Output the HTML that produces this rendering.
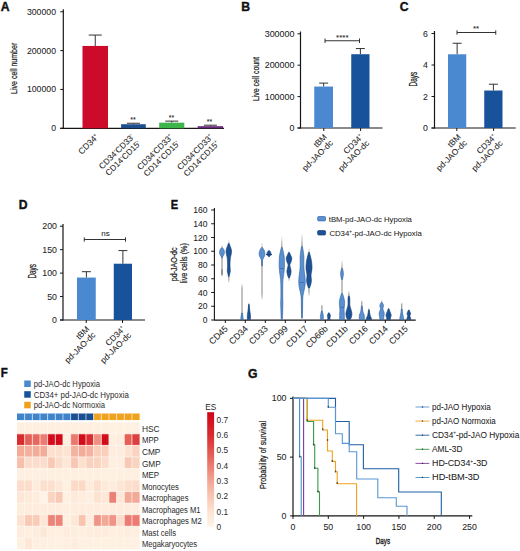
<!DOCTYPE html>
<html><head><meta charset="utf-8"><style>
html,body{margin:0;padding:0;background:#fff;}
svg{display:block;font-family:"Liberation Sans",sans-serif;}
text{stroke:#222;stroke-width:0.05px;}
</style></head><body>
<svg width="520" height="551" viewBox="0 0 520 551">
<rect width="520" height="551" fill="#fff"/>
<text x="0.7" y="10.6" font-size="12.2" font-weight="bold" style="stroke-width:0.4px;stroke:#111" fill="#111">A</text>
<line x1="63.3" y1="9.3" x2="63.3" y2="128.8" stroke="#161616" stroke-width="1.2"/>
<line x1="60.2" y1="128.3" x2="224" y2="128.3" stroke="#161616" stroke-width="1.2"/>
<line x1="60.3" y1="128.3" x2="63.3" y2="128.3" stroke="#161616" stroke-width="1"/>
<text x="56" y="131.3" font-size="8.4" text-anchor="end" textLength="4.85" lengthAdjust="spacingAndGlyphs" fill="#222">0</text>
<line x1="60.3" y1="89.45000000000002" x2="63.3" y2="89.45000000000002" stroke="#161616" stroke-width="1"/>
<text x="56" y="92.45000000000002" font-size="8.4" text-anchor="end" textLength="29.099999999999998" lengthAdjust="spacingAndGlyphs" fill="#222">100000</text>
<line x1="60.3" y1="50.60000000000001" x2="63.3" y2="50.60000000000001" stroke="#161616" stroke-width="1"/>
<text x="56" y="53.60000000000001" font-size="8.4" text-anchor="end" textLength="29.099999999999998" lengthAdjust="spacingAndGlyphs" fill="#222">200000</text>
<line x1="60.3" y1="11.75" x2="63.3" y2="11.75" stroke="#161616" stroke-width="1"/>
<text x="56" y="14.75" font-size="8.4" text-anchor="end" textLength="29.099999999999998" lengthAdjust="spacingAndGlyphs" fill="#222">300000</text>
<text transform="translate(17.4,94) rotate(-90)" font-size="9.3" textLength="51.3" lengthAdjust="spacingAndGlyphs" fill="#222" style="stroke-width:0.24px">Live cell number</text>
<line x1="95.25" y1="35.06000000000002" x2="95.25" y2="45.938" stroke="#333" stroke-width="1"/>
<line x1="88.75" y1="35.06000000000002" x2="101.75" y2="35.06000000000002" stroke="#333" stroke-width="1"/>
<rect x="82.5" y="45.938" width="25.5" height="82.36200000000001" fill="#cc0a2a"/>
<line x1="133.45" y1="123.24950000000001" x2="133.45" y2="124.22075000000001" stroke="#333" stroke-width="1"/>
<line x1="126.94999999999999" y1="123.24950000000001" x2="139.95" y2="123.24950000000001" stroke="#333" stroke-width="1"/>
<rect x="121.1" y="124.22075000000001" width="24.700000000000017" height="4.079250000000002" fill="#1d4f8f"/>
<line x1="171.75" y1="121.11275" x2="171.75" y2="122.66675000000001" stroke="#333" stroke-width="1"/>
<line x1="165.25" y1="121.11275" x2="178.25" y2="121.11275" stroke="#333" stroke-width="1"/>
<rect x="159.2" y="122.66675000000001" width="25.100000000000023" height="5.633250000000004" fill="#3db54a"/>
<line x1="210.39999999999998" y1="125.19200000000001" x2="210.39999999999998" y2="126.16325" stroke="#333" stroke-width="1"/>
<line x1="203.89999999999998" y1="125.19200000000001" x2="216.89999999999998" y2="125.19200000000001" stroke="#333" stroke-width="1"/>
<rect x="197.7" y="126.16325" width="25.400000000000006" height="2.1367500000000064" fill="#6b2c7e"/>
<text x="133" y="121.5" font-size="7" text-anchor="middle" fill="#222">**</text>
<text x="171.5" y="120" font-size="7" text-anchor="middle" fill="#222">**</text>
<text x="209.5" y="124" font-size="7" text-anchor="middle" fill="#222">**</text>
<text transform="translate(99.20,137.50) rotate(-45)" font-size="8.6" text-anchor="end" fill="#222">CD34<tspan dy="-3.6" font-size="0.55em">+</tspan><tspan dy="3.6">&#8203;</tspan></text>
<text transform="translate(134.50,137.60) rotate(-45)" font-size="8.3" text-anchor="end" fill="#222">CD34<tspan dy="-3.6" font-size="0.55em">-</tspan><tspan dy="3.6">&#8203;</tspan>CD33<tspan dy="-3.6" font-size="0.55em">-</tspan><tspan dy="3.6">&#8203;</tspan></text>
<text transform="translate(141.01,144.11) rotate(-45)" font-size="8.3" text-anchor="end" fill="#222">CD14<tspan dy="-3.6" font-size="0.55em">-</tspan><tspan dy="3.6">&#8203;</tspan>CD15<tspan dy="-3.6" font-size="0.55em">-</tspan><tspan dy="3.6">&#8203;</tspan></text>
<text transform="translate(173.50,137.60) rotate(-45)" font-size="8.3" text-anchor="end" fill="#222">CD34<tspan dy="-3.6" font-size="0.55em">-</tspan><tspan dy="3.6">&#8203;</tspan>CD33<tspan dy="-3.6" font-size="0.55em">+</tspan><tspan dy="3.6">&#8203;</tspan></text>
<text transform="translate(180.01,144.11) rotate(-45)" font-size="8.3" text-anchor="end" fill="#222">CD14<tspan dy="-3.6" font-size="0.55em">+</tspan><tspan dy="3.6">&#8203;</tspan>CD15<tspan dy="-3.6" font-size="0.55em">-</tspan><tspan dy="3.6">&#8203;</tspan></text>
<text transform="translate(213.50,137.60) rotate(-45)" font-size="8.3" text-anchor="end" fill="#222">CD34<tspan dy="-3.6" font-size="0.55em">-</tspan><tspan dy="3.6">&#8203;</tspan>CD33<tspan dy="-3.6" font-size="0.55em">+</tspan><tspan dy="3.6">&#8203;</tspan></text>
<text transform="translate(220.01,144.11) rotate(-45)" font-size="8.3" text-anchor="end" fill="#222">CD14<tspan dy="-3.6" font-size="0.55em">-</tspan><tspan dy="3.6">&#8203;</tspan>CD15<tspan dy="-3.6" font-size="0.55em">+</tspan><tspan dy="3.6">&#8203;</tspan></text>
<text x="241.3" y="10.7" font-size="12.2" font-weight="bold" style="stroke-width:0.4px;stroke:#111" fill="#111">B</text>
<line x1="300.5" y1="31.5" x2="300.5" y2="128.5" stroke="#161616" stroke-width="1.2"/>
<line x1="297.5" y1="128" x2="382.5" y2="128" stroke="#161616" stroke-width="1.2"/>
<line x1="297.5" y1="128.0" x2="300.5" y2="128.0" stroke="#161616" stroke-width="1"/>
<text x="294.5" y="131.0" font-size="8.4" text-anchor="end" textLength="4.97" lengthAdjust="spacingAndGlyphs" fill="#222">0</text>
<line x1="297.5" y1="96.6" x2="300.5" y2="96.6" stroke="#161616" stroke-width="1"/>
<text x="294.5" y="99.6" font-size="8.4" text-anchor="end" textLength="29.82" lengthAdjust="spacingAndGlyphs" fill="#222">100000</text>
<line x1="297.5" y1="65.2" x2="300.5" y2="65.2" stroke="#161616" stroke-width="1"/>
<text x="294.5" y="68.2" font-size="8.4" text-anchor="end" textLength="29.82" lengthAdjust="spacingAndGlyphs" fill="#222">200000</text>
<line x1="297.5" y1="33.80000000000001" x2="300.5" y2="33.80000000000001" stroke="#161616" stroke-width="1"/>
<text x="294.5" y="36.80000000000001" font-size="8.4" text-anchor="end" textLength="29.82" lengthAdjust="spacingAndGlyphs" fill="#222">300000</text>
<text transform="translate(258.6,101.1) rotate(-90)" font-size="9.8" textLength="44" lengthAdjust="spacingAndGlyphs" fill="#222" style="stroke-width:0.24px">Live cell count</text>
<line x1="323.625" y1="83.09800000000001" x2="323.625" y2="86.55199999999999" stroke="#333" stroke-width="1"/>
<line x1="319.125" y1="83.09800000000001" x2="328.125" y2="83.09800000000001" stroke="#333" stroke-width="1"/>
<rect x="314.25" y="86.55199999999999" width="18.75" height="41.44800000000001" fill="#4a88cf"/>
<line x1="360.375" y1="48.55800000000001" x2="360.375" y2="54.209999999999994" stroke="#333" stroke-width="1"/>
<line x1="355.875" y1="48.55800000000001" x2="364.875" y2="48.55800000000001" stroke="#333" stroke-width="1"/>
<rect x="351.25" y="54.209999999999994" width="18.25" height="73.79" fill="#17529a"/>
<line x1="325" y1="40.75" x2="359.5" y2="40.75" stroke="#333" stroke-width="1"/>
<line x1="325" y1="38.5" x2="325" y2="43" stroke="#333" stroke-width="1"/>
<line x1="359.5" y1="38.5" x2="359.5" y2="43" stroke="#333" stroke-width="1"/>
<text x="342.3" y="39.8" font-size="8" text-anchor="middle" fill="#222">****</text>
<line x1="323.8" y1="128" x2="323.8" y2="131" stroke="#161616" stroke-width="1"/>
<line x1="360.6" y1="128" x2="360.6" y2="131" stroke="#161616" stroke-width="1"/>
<text transform="translate(327.40,137.50) rotate(-45)" font-size="8.3" text-anchor="end" fill="#222">tBM</text>
<text transform="translate(333.48,143.58) rotate(-45)" font-size="8.3" text-anchor="end" fill="#222">pd-JAO-dc</text>
<text transform="translate(363.60,137.70) rotate(-45)" font-size="8.3" text-anchor="end" fill="#222">CD34<tspan dy="-3.6" font-size="0.55em">+</tspan><tspan dy="3.6">&#8203;</tspan></text>
<text transform="translate(369.68,143.78) rotate(-45)" font-size="8.3" text-anchor="end" fill="#222">pd-JAO-dc</text>
<text x="399.7" y="10.7" font-size="12.2" font-weight="bold" style="stroke-width:0.4px;stroke:#111" fill="#111">C</text>
<line x1="434.5" y1="31" x2="434.5" y2="128.5" stroke="#161616" stroke-width="1.2"/>
<line x1="431.5" y1="128" x2="515.75" y2="128" stroke="#161616" stroke-width="1.2"/>
<line x1="431.5" y1="128.0" x2="434.5" y2="128.0" stroke="#161616" stroke-width="1"/>
<text x="427.8" y="131.0" font-size="8.4" text-anchor="end" textLength="4.85" lengthAdjust="spacingAndGlyphs" fill="#222">0</text>
<line x1="431.5" y1="96.5" x2="434.5" y2="96.5" stroke="#161616" stroke-width="1"/>
<text x="427.8" y="99.5" font-size="8.4" text-anchor="end" textLength="4.85" lengthAdjust="spacingAndGlyphs" fill="#222">2</text>
<line x1="431.5" y1="65.0" x2="434.5" y2="65.0" stroke="#161616" stroke-width="1"/>
<text x="427.8" y="68.0" font-size="8.4" text-anchor="end" textLength="4.85" lengthAdjust="spacingAndGlyphs" fill="#222">4</text>
<line x1="431.5" y1="33.5" x2="434.5" y2="33.5" stroke="#161616" stroke-width="1"/>
<text x="427.8" y="36.5" font-size="8.4" text-anchor="end" textLength="4.85" lengthAdjust="spacingAndGlyphs" fill="#222">6</text>
<text transform="translate(416.5,86.5) rotate(-90)" font-size="10.1" textLength="14.6" lengthAdjust="spacingAndGlyphs" fill="#222" style="stroke-width:0.24px">Days</text>
<line x1="457.125" y1="43.265" x2="457.125" y2="54.290000000000006" stroke="#333" stroke-width="1"/>
<line x1="452.625" y1="43.265" x2="461.625" y2="43.265" stroke="#333" stroke-width="1"/>
<rect x="448" y="54.290000000000006" width="18.25" height="73.71" fill="#4a88cf"/>
<line x1="493.375" y1="84.215" x2="493.375" y2="90.515" stroke="#333" stroke-width="1"/>
<line x1="488.875" y1="84.215" x2="497.875" y2="84.215" stroke="#333" stroke-width="1"/>
<rect x="484.25" y="90.515" width="18.25" height="37.485" fill="#17529a"/>
<line x1="457" y1="32.5" x2="495.75" y2="32.5" stroke="#333" stroke-width="1"/>
<line x1="457" y1="30.3" x2="457" y2="34.7" stroke="#333" stroke-width="1"/>
<line x1="495.75" y1="30.3" x2="495.75" y2="34.7" stroke="#333" stroke-width="1"/>
<text x="476" y="31.2" font-size="8" text-anchor="middle" fill="#222">**</text>
<line x1="456.8" y1="128" x2="456.8" y2="131" stroke="#161616" stroke-width="1"/>
<line x1="493.6" y1="128" x2="493.6" y2="131" stroke="#161616" stroke-width="1"/>
<text transform="translate(461.40,137.50) rotate(-45)" font-size="8.3" text-anchor="end" fill="#222">tBM</text>
<text transform="translate(467.48,143.58) rotate(-45)" font-size="8.3" text-anchor="end" fill="#222">pd-JAO-dc</text>
<text transform="translate(497.00,137.70) rotate(-45)" font-size="8.3" text-anchor="end" fill="#222">CD34<tspan dy="-3.6" font-size="0.55em">+</tspan><tspan dy="3.6">&#8203;</tspan></text>
<text transform="translate(503.08,143.78) rotate(-45)" font-size="8.3" text-anchor="end" fill="#222">pd-JAO-dc</text>
<text x="18.7" y="209.3" font-size="12.2" font-weight="bold" style="stroke-width:0.4px;stroke:#111" fill="#111">D</text>
<line x1="63" y1="224" x2="63" y2="320.5" stroke="#161616" stroke-width="1.2"/>
<line x1="60" y1="320" x2="145" y2="320" stroke="#161616" stroke-width="1.2"/>
<line x1="60" y1="320.0" x2="63" y2="320.0" stroke="#161616" stroke-width="1"/>
<text x="57" y="323.0" font-size="8.4" text-anchor="end" textLength="4.9" lengthAdjust="spacingAndGlyphs" fill="#222">0</text>
<line x1="60" y1="296.55" x2="63" y2="296.55" stroke="#161616" stroke-width="1"/>
<text x="57" y="299.55" font-size="8.4" text-anchor="end" textLength="9.8" lengthAdjust="spacingAndGlyphs" fill="#222">50</text>
<line x1="60" y1="273.1" x2="63" y2="273.1" stroke="#161616" stroke-width="1"/>
<text x="57" y="276.1" font-size="8.4" text-anchor="end" textLength="14.700000000000001" lengthAdjust="spacingAndGlyphs" fill="#222">100</text>
<line x1="60" y1="249.65" x2="63" y2="249.65" stroke="#161616" stroke-width="1"/>
<text x="57" y="252.65" font-size="8.4" text-anchor="end" textLength="14.700000000000001" lengthAdjust="spacingAndGlyphs" fill="#222">150</text>
<line x1="60" y1="226.2" x2="63" y2="226.2" stroke="#161616" stroke-width="1"/>
<text x="57" y="229.2" font-size="8.4" text-anchor="end" textLength="14.700000000000001" lengthAdjust="spacingAndGlyphs" fill="#222">200</text>
<text transform="translate(35.7,278.6) rotate(-90)" font-size="10.0" textLength="14.6" lengthAdjust="spacingAndGlyphs" fill="#222" style="stroke-width:0.24px">Days</text>
<line x1="86.375" y1="271.693" x2="86.375" y2="277.5555" stroke="#333" stroke-width="1"/>
<line x1="81.875" y1="271.693" x2="90.875" y2="271.693" stroke="#333" stroke-width="1"/>
<rect x="77" y="277.5555" width="18.75" height="42.444500000000005" fill="#4a88cf"/>
<line x1="122.875" y1="250.58800000000002" x2="122.875" y2="263.72" stroke="#333" stroke-width="1"/>
<line x1="118.375" y1="250.58800000000002" x2="127.375" y2="250.58800000000002" stroke="#333" stroke-width="1"/>
<rect x="113.75" y="263.72" width="18.25" height="56.27999999999997" fill="#17529a"/>
<line x1="84.25" y1="239.5" x2="125.5" y2="239.5" stroke="#333" stroke-width="1"/>
<line x1="84.25" y1="237.3" x2="84.25" y2="241.7" stroke="#333" stroke-width="1"/>
<line x1="125.5" y1="237.3" x2="125.5" y2="241.7" stroke="#333" stroke-width="1"/>
<text x="105.5" y="235.8" font-size="8" text-anchor="middle" fill="#222">ns</text>
<line x1="86.25" y1="320" x2="86.25" y2="323" stroke="#161616" stroke-width="1"/>
<line x1="122.5" y1="320" x2="122.5" y2="323" stroke="#161616" stroke-width="1"/>
<text transform="translate(89.90,329.50) rotate(-45)" font-size="8.3" text-anchor="end" fill="#222">tBM</text>
<text transform="translate(95.98,335.58) rotate(-45)" font-size="8.3" text-anchor="end" fill="#222">pd-JAO-dc</text>
<text transform="translate(125.60,329.70) rotate(-45)" font-size="8.3" text-anchor="end" fill="#222">CD34<tspan dy="-3.6" font-size="0.55em">+</tspan><tspan dy="3.6">&#8203;</tspan></text>
<text transform="translate(131.68,335.78) rotate(-45)" font-size="8.3" text-anchor="end" fill="#222">pd-JAO-dc</text>
<text x="170.7" y="209.3" font-size="12.2" font-weight="bold" style="stroke-width:0.4px;stroke:#111" textLength="7.4" lengthAdjust="spacingAndGlyphs" fill="#111">E</text>
<line x1="214.4" y1="208" x2="214.4" y2="320.6" stroke="#161616" stroke-width="1.1"/>
<line x1="214.4" y1="320.1" x2="415.75" y2="320.1" stroke="#161616" stroke-width="1.2"/>
<line x1="211.2" y1="320.0" x2="214.4" y2="320.0" stroke="#161616" stroke-width="1"/>
<text x="207.5" y="323.0" font-size="8.4" text-anchor="end" textLength="4.75" lengthAdjust="spacingAndGlyphs" fill="#222">0</text>
<line x1="211.2" y1="306.25" x2="214.4" y2="306.25" stroke="#161616" stroke-width="1"/>
<text x="207.5" y="309.25" font-size="8.4" text-anchor="end" textLength="9.5" lengthAdjust="spacingAndGlyphs" fill="#222">20</text>
<line x1="211.2" y1="292.5" x2="214.4" y2="292.5" stroke="#161616" stroke-width="1"/>
<text x="207.5" y="295.5" font-size="8.4" text-anchor="end" textLength="9.5" lengthAdjust="spacingAndGlyphs" fill="#222">40</text>
<line x1="211.2" y1="278.75" x2="214.4" y2="278.75" stroke="#161616" stroke-width="1"/>
<text x="207.5" y="281.75" font-size="8.4" text-anchor="end" textLength="9.5" lengthAdjust="spacingAndGlyphs" fill="#222">60</text>
<line x1="211.2" y1="265.0" x2="214.4" y2="265.0" stroke="#161616" stroke-width="1"/>
<text x="207.5" y="268.0" font-size="8.4" text-anchor="end" textLength="9.5" lengthAdjust="spacingAndGlyphs" fill="#222">80</text>
<line x1="211.2" y1="251.25" x2="214.4" y2="251.25" stroke="#161616" stroke-width="1"/>
<text x="207.5" y="254.25" font-size="8.4" text-anchor="end" textLength="14.25" lengthAdjust="spacingAndGlyphs" fill="#222">100</text>
<line x1="211.2" y1="237.5" x2="214.4" y2="237.5" stroke="#161616" stroke-width="1"/>
<text x="207.5" y="240.5" font-size="8.4" text-anchor="end" textLength="14.25" lengthAdjust="spacingAndGlyphs" fill="#222">120</text>
<line x1="211.2" y1="223.75" x2="214.4" y2="223.75" stroke="#161616" stroke-width="1"/>
<text x="207.5" y="226.75" font-size="8.4" text-anchor="end" textLength="14.25" lengthAdjust="spacingAndGlyphs" fill="#222">140</text>
<line x1="211.2" y1="210.0" x2="214.4" y2="210.0" stroke="#161616" stroke-width="1"/>
<text x="207.5" y="213.0" font-size="8.4" text-anchor="end" textLength="14.25" lengthAdjust="spacingAndGlyphs" fill="#222">160</text>
<text transform="translate(177.1,281.3) rotate(-90)" font-size="9.0" textLength="33.8" lengthAdjust="spacingAndGlyphs" fill="#222" style="stroke-width:0.24px">pd-JAO-dc</text>
<text transform="translate(186.8,283.5) rotate(-90)" font-size="9.0" textLength="40.3" lengthAdjust="spacingAndGlyphs" fill="#222" style="stroke-width:0.24px">live cells (%)</text>
<line x1="225.3" y1="320" x2="225.3" y2="323" stroke="#161616" stroke-width="1"/>
<text transform="translate(228.50,329.20) rotate(-45)" font-size="8.8" text-anchor="end" fill="#222">CD45</text>
<line x1="245.3" y1="320" x2="245.3" y2="323" stroke="#161616" stroke-width="1"/>
<text transform="translate(248.50,329.20) rotate(-45)" font-size="8.8" text-anchor="end" fill="#222">CD34</text>
<line x1="265.3" y1="320" x2="265.3" y2="323" stroke="#161616" stroke-width="1"/>
<text transform="translate(268.50,329.20) rotate(-45)" font-size="8.8" text-anchor="end" fill="#222">CD33</text>
<line x1="285.3" y1="320" x2="285.3" y2="323" stroke="#161616" stroke-width="1"/>
<text transform="translate(288.50,329.20) rotate(-45)" font-size="8.8" text-anchor="end" fill="#222">CD99</text>
<line x1="305.3" y1="320" x2="305.3" y2="323" stroke="#161616" stroke-width="1"/>
<text transform="translate(308.50,329.20) rotate(-45)" font-size="8.8" text-anchor="end" fill="#222">CD117</text>
<line x1="325.3" y1="320" x2="325.3" y2="323" stroke="#161616" stroke-width="1"/>
<text transform="translate(328.50,329.20) rotate(-45)" font-size="8.8" text-anchor="end" fill="#222">CD66b</text>
<line x1="345.3" y1="320" x2="345.3" y2="323" stroke="#161616" stroke-width="1"/>
<text transform="translate(348.50,329.20) rotate(-45)" font-size="8.8" text-anchor="end" fill="#222">CD11b</text>
<line x1="365.3" y1="320" x2="365.3" y2="323" stroke="#161616" stroke-width="1"/>
<text transform="translate(368.50,329.20) rotate(-45)" font-size="8.8" text-anchor="end" fill="#222">CD16</text>
<line x1="385.3" y1="320" x2="385.3" y2="323" stroke="#161616" stroke-width="1"/>
<text transform="translate(388.50,329.20) rotate(-45)" font-size="8.8" text-anchor="end" fill="#222">CD14</text>
<line x1="405.3" y1="320" x2="405.3" y2="323" stroke="#161616" stroke-width="1"/>
<text transform="translate(408.50,329.20) rotate(-45)" font-size="8.8" text-anchor="end" fill="#222">CD15</text>
<rect x="317.6" y="216.5" width="8" height="4.4" rx="1.2" fill="#5b92d2" stroke="#2f66a8" stroke-width="0.7"/>
<rect x="317.6" y="230.6" width="8" height="4.4" rx="1.2" fill="#1d5296" stroke="#123c74" stroke-width="0.7"/>
<text x="328.8" y="221.6" font-size="8.1" textLength="83.1" lengthAdjust="spacingAndGlyphs" fill="#222">tBM-pd-JAO-dc Hypoxia</text>
<text x="329.4" y="235.8" font-size="8.1" textLength="92.4" lengthAdjust="spacingAndGlyphs" fill="#222">CD34<tspan dy="-3.2" font-size="0.6em">+</tspan><tspan dy="3.2">-pd-JAO-dc Hypoxia</tspan></text>
<defs><linearGradient id="tg" x1="0" y1="0" x2="0" y2="1"><stop offset="0" stop-color="#999" stop-opacity="0.15"/><stop offset="0.12" stop-color="#888" stop-opacity="0.8"/><stop offset="0.9" stop-color="#888" stop-opacity="0.8"/><stop offset="1" stop-color="#999" stop-opacity="0.3"/></linearGradient></defs>
<rect x="221.35" y="245" width="1.3" height="31.60" fill="url(#tg)"/>
<path d="M222.40,247.80 C222.63,248.08 223.47,248.80 223.80,249.50 C224.13,250.20 224.37,251.17 224.40,252.00 C224.43,252.83 224.27,253.75 224.00,254.50 C223.73,255.25 223.08,255.92 222.80,256.50 C222.52,257.08 222.38,257.75 222.30,258.00 L221.70,258.00 C221.62,257.75 221.48,257.08 221.20,256.50 C220.92,255.92 220.27,255.25 220.00,254.50 C219.73,253.75 219.57,252.83 219.60,252.00 C219.63,251.17 219.87,250.20 220.20,249.50 C220.53,248.80 221.37,248.08 221.60,247.80 Z" fill="#5a90d0" stroke="#2c5f9e" stroke-width="0.6"/>
<rect x="221.3" y="269.5" width="1.4" height="5.5" fill="#555" opacity="0.6"/>
<rect x="228.15" y="240.2" width="1.3" height="42.30" fill="url(#tg)"/>
<path d="M229.20,243.50 C229.38,244.00 229.95,245.50 230.30,246.50 C230.65,247.50 231.10,248.50 231.30,249.50 C231.50,250.50 231.57,251.50 231.50,252.50 C231.43,253.50 231.10,254.50 230.90,255.50 C230.70,256.50 230.45,257.08 230.30,258.50 C230.15,259.92 230.03,262.42 230.00,264.00 C229.97,265.58 230.05,266.83 230.10,268.00 C230.15,269.17 230.37,270.00 230.30,271.00 C230.23,272.00 229.90,273.08 229.70,274.00 C229.50,274.92 229.20,276.08 229.10,276.50 L228.50,276.50 C228.40,276.08 228.10,274.92 227.90,274.00 C227.70,273.08 227.37,272.00 227.30,271.00 C227.23,270.00 227.45,269.17 227.50,268.00 C227.55,266.83 227.63,265.58 227.60,264.00 C227.57,262.42 227.45,259.92 227.30,258.50 C227.15,257.08 226.90,256.50 226.70,255.50 C226.50,254.50 226.17,253.50 226.10,252.50 C226.03,251.50 226.10,250.50 226.30,249.50 C226.50,248.50 226.95,247.50 227.30,246.50 C227.65,245.50 228.22,244.00 228.40,243.50 Z" fill="#1d5296" stroke="#123c74" stroke-width="0.6"/>
<rect x="241.35" y="283.9" width="1.3" height="36.10" fill="url(#tg)"/>
<path d="M242.30,313.00 C242.38,313.42 242.67,314.67 242.80,315.50 C242.93,316.33 243.03,317.32 243.10,318.00 C243.17,318.68 243.18,319.33 243.20,319.60 L240.80,319.60 C240.82,319.33 240.83,318.68 240.90,318.00 C240.97,317.32 241.07,316.33 241.20,315.50 C241.33,314.67 241.62,313.42 241.70,313.00 Z" fill="#5a90d0" stroke="#2c5f9e" stroke-width="0.6"/>
<rect x="248.25" y="302.5" width="1.3" height="17.50" fill="url(#tg)"/>
<path d="M249.20,304.50 C249.25,305.08 249.40,306.92 249.50,308.00 C249.60,309.08 249.67,310.00 249.80,311.00 C249.93,312.00 250.18,313.00 250.30,314.00 C250.42,315.00 250.48,316.07 250.50,317.00 C250.52,317.93 250.42,319.17 250.40,319.60 L247.40,319.60 C247.38,319.17 247.28,317.93 247.30,317.00 C247.32,316.07 247.38,315.00 247.50,314.00 C247.62,313.00 247.87,312.00 248.00,311.00 C248.13,310.00 248.20,309.08 248.30,308.00 C248.40,306.92 248.55,305.08 248.60,304.50 Z" fill="#1d5296" stroke="#123c74" stroke-width="0.6"/>
<rect x="261.35" y="243" width="1.3" height="56.50" fill="url(#tg)"/>
<path d="M262.40,247.50 C262.67,247.92 263.58,249.00 264.00,250.00 C264.42,251.00 264.85,252.42 264.90,253.50 C264.95,254.58 264.65,255.53 264.30,256.50 C263.95,257.47 263.12,258.38 262.80,259.30 C262.48,260.22 262.48,260.88 262.40,262.00 C262.32,263.12 262.32,265.33 262.30,266.00 L261.70,266.00 C261.68,265.33 261.68,263.12 261.60,262.00 C261.52,260.88 261.52,260.22 261.20,259.30 C260.88,258.38 260.05,257.47 259.70,256.50 C259.35,255.53 259.05,254.58 259.10,253.50 C259.15,252.42 259.58,251.00 260.00,250.00 C260.42,249.00 261.33,247.92 261.60,247.50 Z" fill="#5a90d0" stroke="#2c5f9e" stroke-width="0.6"/>
<path d="M269.30,250.50 C269.53,250.80 270.42,251.72 270.70,252.30 C270.98,252.88 270.85,253.62 271.00,254.00 C271.15,254.38 271.73,254.37 271.60,254.60 C271.47,254.83 270.58,255.03 270.20,255.40 C269.82,255.77 269.45,256.57 269.30,256.80 L268.70,256.80 C268.55,256.57 268.18,255.77 267.80,255.40 C267.42,255.03 266.53,254.83 266.40,254.60 C266.27,254.37 266.85,254.38 267.00,254.00 C267.15,253.62 267.02,252.88 267.30,252.30 C267.58,251.72 268.47,250.80 268.70,250.50 Z" fill="#1d5296" stroke="#123c74" stroke-width="0.6"/>
<line x1="266.2" y1="254.6" x2="271.8" y2="254.6" stroke="#123c74" stroke-width="1"/>
<rect x="281.15" y="236.7" width="1.3" height="83.30" fill="url(#tg)"/>
<path d="M282.20,247.50 C282.35,248.08 282.78,249.58 283.10,251.00 C283.42,252.42 283.88,254.33 284.10,256.00 C284.32,257.67 284.35,259.17 284.40,261.00 C284.45,262.83 284.47,265.17 284.40,267.00 C284.33,268.83 284.18,270.33 284.00,272.00 C283.82,273.67 283.50,275.17 283.30,277.00 C283.10,278.83 282.90,279.83 282.80,283.00 C282.70,286.17 282.68,292.67 282.70,296.00 C282.72,299.33 282.90,300.67 282.90,303.00 C282.90,305.33 282.77,307.67 282.70,310.00 C282.63,312.33 282.58,315.42 282.50,317.00 C282.42,318.58 282.25,319.08 282.20,319.50 L281.40,319.50 C281.35,319.08 281.18,318.58 281.10,317.00 C281.02,315.42 280.97,312.33 280.90,310.00 C280.83,307.67 280.70,305.33 280.70,303.00 C280.70,300.67 280.88,299.33 280.90,296.00 C280.92,292.67 280.90,286.17 280.80,283.00 C280.70,279.83 280.50,278.83 280.30,277.00 C280.10,275.17 279.78,273.67 279.60,272.00 C279.42,270.33 279.27,268.83 279.20,267.00 C279.13,265.17 279.15,262.83 279.20,261.00 C279.25,259.17 279.28,257.67 279.50,256.00 C279.72,254.33 280.18,252.42 280.50,251.00 C280.82,249.58 281.25,248.08 281.40,247.50 Z" fill="#5a90d0" stroke="#2c5f9e" stroke-width="0.6"/>
<line x1="279.6" y1="268.5" x2="284.0" y2="268.5" stroke="#2c5f9e" stroke-width="0.6"/>
<rect x="288.35" y="250.8" width="1.3" height="30.20" fill="url(#tg)"/>
<path d="M289.40,252.50 C289.63,253.00 290.40,254.50 290.80,255.50 C291.20,256.50 291.77,257.42 291.80,258.50 C291.83,259.58 291.33,260.92 291.00,262.00 C290.67,263.08 289.90,264.08 289.80,265.00 C289.70,265.92 290.18,266.42 290.40,267.50 C290.62,268.58 291.08,270.25 291.10,271.50 C291.12,272.75 290.78,273.95 290.50,275.00 C290.22,276.05 289.58,277.33 289.40,277.80 L288.60,277.80 C288.42,277.33 287.78,276.05 287.50,275.00 C287.22,273.95 286.88,272.75 286.90,271.50 C286.92,270.25 287.38,268.58 287.60,267.50 C287.82,266.42 288.30,265.92 288.20,265.00 C288.10,264.08 287.33,263.08 287.00,262.00 C286.67,260.92 286.17,259.58 286.20,258.50 C286.23,257.42 286.80,256.50 287.20,255.50 C287.60,254.50 288.37,253.00 288.60,252.50 Z" fill="#1d5296" stroke="#123c74" stroke-width="0.6"/>
<rect x="301.35" y="234.2" width="1.3" height="85.80" fill="url(#tg)"/>
<path d="M302.40,246.50 C302.53,247.25 302.95,249.25 303.20,251.00 C303.45,252.75 303.80,254.83 303.90,257.00 C304.00,259.17 303.77,261.83 303.80,264.00 C303.83,266.17 303.92,268.00 304.10,270.00 C304.28,272.00 304.70,273.92 304.90,276.00 C305.10,278.08 305.35,280.50 305.30,282.50 C305.25,284.50 304.90,286.25 304.60,288.00 C304.30,289.75 303.80,291.33 303.50,293.00 C303.20,294.67 302.95,295.50 302.80,298.00 C302.65,300.50 302.67,304.67 302.60,308.00 C302.53,311.33 302.43,316.33 302.40,318.00 L301.60,318.00 C301.57,316.33 301.47,311.33 301.40,308.00 C301.33,304.67 301.35,300.50 301.20,298.00 C301.05,295.50 300.80,294.67 300.50,293.00 C300.20,291.33 299.70,289.75 299.40,288.00 C299.10,286.25 298.75,284.50 298.70,282.50 C298.65,280.50 298.90,278.08 299.10,276.00 C299.30,273.92 299.72,272.00 299.90,270.00 C300.08,268.00 300.17,266.17 300.20,264.00 C300.23,261.83 300.00,259.17 300.10,257.00 C300.20,254.83 300.55,252.75 300.80,251.00 C301.05,249.25 301.47,247.25 301.60,246.50 Z" fill="#5a90d0" stroke="#2c5f9e" stroke-width="0.6"/>
<line x1="299.8" y1="282.5" x2="304.2" y2="282.5" stroke="#2c5f9e" stroke-width="0.6"/>
<rect x="308.35" y="248.3" width="1.3" height="47.50" fill="url(#tg)"/>
<path d="M309.40,252.50 C309.60,253.25 310.23,255.42 310.60,257.00 C310.97,258.58 311.37,260.08 311.60,262.00 C311.83,263.92 312.10,266.33 312.00,268.50 C311.90,270.67 311.10,273.08 311.00,275.00 C310.90,276.92 311.42,278.50 311.40,280.00 C311.38,281.50 311.22,282.67 310.90,284.00 C310.58,285.33 309.73,287.33 309.50,288.00 L308.50,288.00 C308.27,287.33 307.42,285.33 307.10,284.00 C306.78,282.67 306.62,281.50 306.60,280.00 C306.58,278.50 307.10,276.92 307.00,275.00 C306.90,273.08 306.10,270.67 306.00,268.50 C305.90,266.33 306.17,263.92 306.40,262.00 C306.63,260.08 307.03,258.58 307.40,257.00 C307.77,255.42 308.40,253.25 308.60,252.50 Z" fill="#1d5296" stroke="#123c74" stroke-width="0.6"/>
<line x1="306.8" y1="270.8" x2="311.2" y2="270.8" stroke="#123c74" stroke-width="0.6"/>
<rect x="321.25" y="304.3" width="1.3" height="15.70" fill="url(#tg)"/>
<path d="M322.20,311.00 C322.32,311.42 322.70,312.58 322.90,313.50 C323.10,314.42 323.33,315.62 323.40,316.50 C323.47,317.38 323.35,318.28 323.30,318.80 C323.25,319.32 323.13,319.47 323.10,319.60 L320.70,319.60 C320.67,319.47 320.55,319.32 320.50,318.80 C320.45,318.28 320.33,317.38 320.40,316.50 C320.47,315.62 320.70,314.42 320.90,313.50 C321.10,312.58 321.48,311.42 321.60,311.00 Z" fill="#5a90d0" stroke="#2c5f9e" stroke-width="0.6"/>
<path d="M329.20,312.80 C329.35,313.08 329.90,313.92 330.10,314.50 C330.30,315.08 330.43,315.72 330.40,316.30 C330.37,316.88 329.92,317.45 329.90,318.00 C329.88,318.55 330.23,319.33 330.30,319.60 L327.50,319.60 C327.57,319.33 327.92,318.55 327.90,318.00 C327.88,317.45 327.43,316.88 327.40,316.30 C327.37,315.72 327.50,315.08 327.70,314.50 C327.90,313.92 328.45,313.08 328.60,312.80 Z" fill="#1d5296" stroke="#123c74" stroke-width="0.6"/>
<rect x="341.35" y="260.5" width="1.3" height="59.50" fill="url(#tg)"/>
<path d="M342.40,268.50 C342.52,268.92 342.93,270.08 343.10,271.00 C343.27,271.92 343.42,273.00 343.40,274.00 C343.38,275.00 343.17,276.08 343.00,277.00 C342.83,277.92 342.50,279.08 342.40,279.50 L341.60,279.50 C341.50,279.08 341.17,277.92 341.00,277.00 C340.83,276.08 340.62,275.00 340.60,274.00 C340.58,273.00 340.73,271.92 340.90,271.00 C341.07,270.08 341.48,268.92 341.60,268.50 Z" fill="#5a90d0" stroke="#2c5f9e" stroke-width="0.6"/>
<path d="M342.40,293.50 C342.58,294.00 343.13,295.17 343.50,296.50 C343.87,297.83 344.43,300.08 344.60,301.50 C344.77,302.92 344.58,303.75 344.50,305.00 C344.42,306.25 344.13,307.50 344.10,309.00 C344.07,310.50 344.25,312.23 344.30,314.00 C344.35,315.77 344.38,318.67 344.40,319.60 L339.60,319.60 C339.62,318.67 339.65,315.77 339.70,314.00 C339.75,312.23 339.93,310.50 339.90,309.00 C339.87,307.50 339.58,306.25 339.50,305.00 C339.42,303.75 339.23,302.92 339.40,301.50 C339.57,300.08 340.13,297.83 340.50,296.50 C340.87,295.17 341.42,294.00 341.60,293.50 Z" fill="#5a90d0" stroke="#2c5f9e" stroke-width="0.6"/>
<line x1="339.8" y1="307.3" x2="344.2" y2="307.3" stroke="#2c5f9e" stroke-width="0.6"/>
<rect x="348.25" y="290.9" width="1.3" height="29.10" fill="url(#tg)"/>
<path d="M349.30,296.00 C349.38,296.50 349.72,297.50 349.80,299.00 C349.88,300.50 349.65,303.42 349.80,305.00 C349.95,306.58 350.35,307.10 350.70,308.50 C351.05,309.90 351.80,311.90 351.90,313.40 C352.00,314.90 351.60,316.47 351.30,317.50 C351.00,318.53 350.30,319.25 350.10,319.60 L347.70,319.60 C347.50,319.25 346.80,318.53 346.50,317.50 C346.20,316.47 345.80,314.90 345.90,313.40 C346.00,311.90 346.75,309.90 347.10,308.50 C347.45,307.10 347.85,306.58 348.00,305.00 C348.15,303.42 347.92,300.50 348.00,299.00 C348.08,297.50 348.42,296.50 348.50,296.00 Z" fill="#1d5296" stroke="#123c74" stroke-width="0.6"/>
<rect x="361.15" y="300.1" width="1.3" height="19.90" fill="url(#tg)"/>
<path d="M362.20,306.00 C362.27,306.67 362.43,308.92 362.60,310.00 C362.77,311.08 362.93,311.67 363.20,312.50 C363.47,313.33 364.00,314.08 364.20,315.00 C364.40,315.92 364.43,317.23 364.40,318.00 C364.37,318.77 364.07,319.33 364.00,319.60 L359.60,319.60 C359.53,319.33 359.23,318.77 359.20,318.00 C359.17,317.23 359.20,315.92 359.40,315.00 C359.60,314.08 360.13,313.33 360.40,312.50 C360.67,311.67 360.83,311.08 361.00,310.00 C361.17,308.92 361.33,306.67 361.40,306.00 Z" fill="#5a90d0" stroke="#2c5f9e" stroke-width="0.6"/>
<rect x="368.25" y="307.9" width="1.3" height="12.10" fill="url(#tg)"/>
<path d="M369.30,310.00 C369.37,310.50 369.55,312.07 369.70,313.00 C369.85,313.93 369.95,314.80 370.20,315.60 C370.45,316.40 370.98,317.13 371.20,317.80 C371.42,318.47 371.45,319.30 371.50,319.60 L366.30,319.60 C366.35,319.30 366.38,318.47 366.60,317.80 C366.82,317.13 367.35,316.40 367.60,315.60 C367.85,314.80 367.95,313.93 368.10,313.00 C368.25,312.07 368.43,310.50 368.50,310.00 Z" fill="#1d5296" stroke="#123c74" stroke-width="0.6"/>
<rect x="381.05" y="300.1" width="1.3" height="19.90" fill="url(#tg)"/>
<path d="M382.10,302.50 C382.35,303.00 383.47,304.53 383.60,305.50 C383.73,306.47 382.93,307.47 382.90,308.30 C382.87,309.13 383.17,309.67 383.40,310.50 C383.63,311.33 384.22,312.30 384.30,313.30 C384.38,314.30 384.03,315.45 383.90,316.50 C383.77,317.55 383.57,319.08 383.50,319.60 L379.90,319.60 C379.83,319.08 379.63,317.55 379.50,316.50 C379.37,315.45 379.02,314.30 379.10,313.30 C379.18,312.30 379.77,311.33 380.00,310.50 C380.23,309.67 380.53,309.13 380.50,308.30 C380.47,307.47 379.67,306.47 379.80,305.50 C379.93,304.53 381.05,303.00 381.30,302.50 Z" fill="#5a90d0" stroke="#2c5f9e" stroke-width="0.6"/>
<rect x="387.95" y="307.3" width="1.3" height="12.70" fill="url(#tg)"/>
<path d="M389.00,309.00 C389.15,309.42 389.53,310.50 389.90,311.50 C390.27,312.50 391.08,314.00 391.20,315.00 C391.32,316.00 390.73,316.73 390.60,317.50 C390.47,318.27 390.43,319.25 390.40,319.60 L386.80,319.60 C386.77,319.25 386.73,318.27 386.60,317.50 C386.47,316.73 385.88,316.00 386.00,315.00 C386.12,314.00 386.93,312.50 387.30,311.50 C387.67,310.50 388.05,309.42 388.20,309.00 Z" fill="#1d5296" stroke="#123c74" stroke-width="0.6"/>
<rect x="401.05" y="302.5" width="1.3" height="17.50" fill="url(#tg)"/>
<path d="M402.10,309.00 C402.17,309.67 402.30,311.75 402.50,313.00 C402.70,314.25 403.10,315.40 403.30,316.50 C403.50,317.60 403.63,319.08 403.70,319.60 L399.70,319.60 C399.77,319.08 399.90,317.60 400.10,316.50 C400.30,315.40 400.70,314.25 400.90,313.00 C401.10,311.75 401.23,309.67 401.30,309.00 Z" fill="#5a90d0" stroke="#2c5f9e" stroke-width="0.6"/>
<rect x="408.15" y="309.2" width="1.3" height="10.80" fill="url(#tg)"/>
<path d="M409.20,310.20 C409.33,310.50 409.77,311.40 410.00,312.00 C410.23,312.60 410.62,313.17 410.60,313.80 C410.58,314.43 409.92,315.10 409.90,315.80 C409.88,316.50 410.33,317.37 410.50,318.00 C410.67,318.63 410.83,319.33 410.90,319.60 L406.70,319.60 C406.77,319.33 406.93,318.63 407.10,318.00 C407.27,317.37 407.72,316.50 407.70,315.80 C407.68,315.10 407.02,314.43 407.00,313.80 C406.98,313.17 407.37,312.60 407.60,312.00 C407.83,311.40 408.27,310.50 408.40,310.20 Z" fill="#1d5296" stroke="#123c74" stroke-width="0.6"/>
<text x="0.8" y="377.0" font-size="12.2" font-weight="bold" style="stroke-width:0.4px;stroke:#111" textLength="7.0" lengthAdjust="spacingAndGlyphs" fill="#111">F</text>
<rect x="24.25" y="380.5" width="6.5" height="6.5" fill="#4a88cf"/>
<rect x="24.25" y="391.2" width="6.5" height="6.5" fill="#17529a"/>
<rect x="24.25" y="401.8" width="6.5" height="6.5" fill="#f0a01e"/>
<text x="33.75" y="387" font-size="8.3" textLength="66.2" lengthAdjust="spacingAndGlyphs" fill="#2a2a2a" style="stroke:none">pd-JAO-dc Hypoxia</text>
<text x="33.75" y="397.7" font-size="8.3" textLength="95" lengthAdjust="spacingAndGlyphs" fill="#2a2a2a" style="stroke:none">CD34+ pd-JAO-dc Hypoxia</text>
<text x="33.75" y="408.3" font-size="8.3" textLength="71.2" lengthAdjust="spacingAndGlyphs" fill="#2a2a2a" style="stroke:none">pd-JAO-dc Normoxia</text>
<rect x="17.00" y="413.5" width="7.66" height="6.6" fill="#3f84cb"/>
<rect x="24.66" y="413.5" width="7.66" height="6.6" fill="#3f84cb"/>
<rect x="32.33" y="413.5" width="7.66" height="6.6" fill="#3f84cb"/>
<rect x="39.99" y="413.5" width="7.66" height="6.6" fill="#3f84cb"/>
<rect x="47.65" y="413.5" width="7.66" height="6.6" fill="#3f84cb"/>
<rect x="55.31" y="413.5" width="7.66" height="6.6" fill="#3f84cb"/>
<rect x="62.97" y="413.5" width="7.66" height="6.6" fill="#3f84cb"/>
<rect x="70.64" y="413.5" width="7.66" height="6.6" fill="#1b4f93"/>
<rect x="78.30" y="413.5" width="7.66" height="6.6" fill="#1b4f93"/>
<rect x="85.96" y="413.5" width="7.66" height="6.6" fill="#1b4f93"/>
<rect x="93.62" y="413.5" width="7.66" height="6.6" fill="#f0a21c"/>
<rect x="101.29" y="413.5" width="7.66" height="6.6" fill="#f0a21c"/>
<rect x="108.95" y="413.5" width="7.66" height="6.6" fill="#f0a21c"/>
<rect x="116.61" y="413.5" width="7.66" height="6.6" fill="#f0a21c"/>
<rect x="124.27" y="413.5" width="7.66" height="6.6" fill="#f0a21c"/>
<rect x="131.94" y="413.5" width="7.66" height="6.6" fill="#f0a21c"/>
<rect x="17.00" y="422.30" width="7.66" height="11.55" fill="#feefe0"/>
<rect x="24.66" y="422.30" width="7.66" height="11.55" fill="#feefe0"/>
<rect x="32.33" y="422.30" width="7.66" height="11.55" fill="#feefe0"/>
<rect x="39.99" y="422.30" width="7.66" height="11.55" fill="#feefe0"/>
<rect x="47.65" y="422.30" width="7.66" height="11.55" fill="#feefe0"/>
<rect x="55.31" y="422.30" width="7.66" height="11.55" fill="#feefe0"/>
<rect x="62.97" y="422.30" width="7.66" height="11.55" fill="#feefe0"/>
<rect x="70.64" y="422.30" width="7.66" height="11.55" fill="#feefe0"/>
<rect x="78.30" y="422.30" width="7.66" height="11.55" fill="#feefe0"/>
<rect x="85.96" y="422.30" width="7.66" height="11.55" fill="#feefe0"/>
<rect x="93.62" y="422.30" width="7.66" height="11.55" fill="#feefe0"/>
<rect x="101.29" y="422.30" width="7.66" height="11.55" fill="#feefe0"/>
<rect x="108.95" y="422.30" width="7.66" height="11.55" fill="#fef1e2"/>
<rect x="116.61" y="422.30" width="7.66" height="11.55" fill="#fef1e2"/>
<rect x="124.27" y="422.30" width="7.66" height="11.55" fill="#fef1e2"/>
<rect x="131.94" y="422.30" width="7.66" height="11.55" fill="#fef1e2"/>
<rect x="17.00" y="433.85" width="7.66" height="11.55" fill="#d82c30"/>
<rect x="24.66" y="433.85" width="7.66" height="11.55" fill="#e46057"/>
<rect x="32.33" y="433.85" width="7.66" height="11.55" fill="#e6685f"/>
<rect x="39.99" y="433.85" width="7.66" height="11.55" fill="#ec7c72"/>
<rect x="47.65" y="433.85" width="7.66" height="11.55" fill="#d20c1b"/>
<rect x="55.31" y="433.85" width="7.66" height="11.55" fill="#d10919"/>
<rect x="62.97" y="433.85" width="7.66" height="11.55" fill="#feefe0"/>
<rect x="70.64" y="433.85" width="7.66" height="11.55" fill="#eb786e"/>
<rect x="78.30" y="433.85" width="7.66" height="11.55" fill="#d20c1b"/>
<rect x="85.96" y="433.85" width="7.66" height="11.55" fill="#d82c30"/>
<rect x="93.62" y="433.85" width="7.66" height="11.55" fill="#f09083"/>
<rect x="101.29" y="433.85" width="7.66" height="11.55" fill="#d20c1b"/>
<rect x="108.95" y="433.85" width="7.66" height="11.55" fill="#feefe0"/>
<rect x="116.61" y="433.85" width="7.66" height="11.55" fill="#feedde"/>
<rect x="124.27" y="433.85" width="7.66" height="11.55" fill="#e46057"/>
<rect x="131.94" y="433.85" width="7.66" height="11.55" fill="#dc403e"/>
<rect x="17.00" y="445.40" width="7.66" height="11.55" fill="#f4ac9a"/>
<rect x="24.66" y="445.40" width="7.66" height="11.55" fill="#f4af9d"/>
<rect x="32.33" y="445.40" width="7.66" height="11.55" fill="#f4ac9a"/>
<rect x="39.99" y="445.40" width="7.66" height="11.55" fill="#f4ac9a"/>
<rect x="47.65" y="445.40" width="7.66" height="11.55" fill="#fcdfcd"/>
<rect x="55.31" y="445.40" width="7.66" height="11.55" fill="#fcdfcd"/>
<rect x="62.97" y="445.40" width="7.66" height="11.55" fill="#fde4d2"/>
<rect x="70.64" y="445.40" width="7.66" height="11.55" fill="#f5b2a0"/>
<rect x="78.30" y="445.40" width="7.66" height="11.55" fill="#f4ac9a"/>
<rect x="85.96" y="445.40" width="7.66" height="11.55" fill="#f5b2a0"/>
<rect x="93.62" y="445.40" width="7.66" height="11.55" fill="#facebb"/>
<rect x="101.29" y="445.40" width="7.66" height="11.55" fill="#facebb"/>
<rect x="108.95" y="445.40" width="7.66" height="11.55" fill="#feedde"/>
<rect x="116.61" y="445.40" width="7.66" height="11.55" fill="#feedde"/>
<rect x="124.27" y="445.40" width="7.66" height="11.55" fill="#fde2d0"/>
<rect x="131.94" y="445.40" width="7.66" height="11.55" fill="#fad4c1"/>
<rect x="17.00" y="456.95" width="7.66" height="11.55" fill="#f7bfac"/>
<rect x="24.66" y="456.95" width="7.66" height="11.55" fill="#fcdcca"/>
<rect x="32.33" y="456.95" width="7.66" height="11.55" fill="#fcdcca"/>
<rect x="39.99" y="456.95" width="7.66" height="11.55" fill="#fcdcca"/>
<rect x="47.65" y="456.95" width="7.66" height="11.55" fill="#f8c9b5"/>
<rect x="55.31" y="456.95" width="7.66" height="11.55" fill="#fcdcca"/>
<rect x="62.97" y="456.95" width="7.66" height="11.55" fill="#fde8d7"/>
<rect x="70.64" y="456.95" width="7.66" height="11.55" fill="#f8c6b2"/>
<rect x="78.30" y="456.95" width="7.66" height="11.55" fill="#fcdfcd"/>
<rect x="85.96" y="456.95" width="7.66" height="11.55" fill="#fad1be"/>
<rect x="93.62" y="456.95" width="7.66" height="11.55" fill="#fad4c1"/>
<rect x="101.29" y="456.95" width="7.66" height="11.55" fill="#fcdcca"/>
<rect x="108.95" y="456.95" width="7.66" height="11.55" fill="#feefe0"/>
<rect x="116.61" y="456.95" width="7.66" height="11.55" fill="#feefe0"/>
<rect x="124.27" y="456.95" width="7.66" height="11.55" fill="#f8c9b5"/>
<rect x="131.94" y="456.95" width="7.66" height="11.55" fill="#fad4c1"/>
<rect x="17.00" y="468.50" width="7.66" height="11.55" fill="#feefe0"/>
<rect x="24.66" y="468.50" width="7.66" height="11.55" fill="#feefe0"/>
<rect x="32.33" y="468.50" width="7.66" height="11.55" fill="#feefe0"/>
<rect x="39.99" y="468.50" width="7.66" height="11.55" fill="#feefe0"/>
<rect x="47.65" y="468.50" width="7.66" height="11.55" fill="#feefe0"/>
<rect x="55.31" y="468.50" width="7.66" height="11.55" fill="#feefe0"/>
<rect x="62.97" y="468.50" width="7.66" height="11.55" fill="#feefe0"/>
<rect x="70.64" y="468.50" width="7.66" height="11.55" fill="#feefe0"/>
<rect x="78.30" y="468.50" width="7.66" height="11.55" fill="#feefe0"/>
<rect x="85.96" y="468.50" width="7.66" height="11.55" fill="#feefe0"/>
<rect x="93.62" y="468.50" width="7.66" height="11.55" fill="#feefe0"/>
<rect x="101.29" y="468.50" width="7.66" height="11.55" fill="#feefe0"/>
<rect x="108.95" y="468.50" width="7.66" height="11.55" fill="#feefe0"/>
<rect x="116.61" y="468.50" width="7.66" height="11.55" fill="#feefe0"/>
<rect x="124.27" y="468.50" width="7.66" height="11.55" fill="#feefe0"/>
<rect x="131.94" y="468.50" width="7.66" height="11.55" fill="#feefe0"/>
<rect x="17.00" y="480.05" width="7.66" height="11.55" fill="#fcdcca"/>
<rect x="24.66" y="480.05" width="7.66" height="11.55" fill="#fcdcca"/>
<rect x="32.33" y="480.05" width="7.66" height="11.55" fill="#feecdc"/>
<rect x="39.99" y="480.05" width="7.66" height="11.55" fill="#fcdfcd"/>
<rect x="47.65" y="480.05" width="7.66" height="11.55" fill="#fcdfcd"/>
<rect x="55.31" y="480.05" width="7.66" height="11.55" fill="#fde8d7"/>
<rect x="62.97" y="480.05" width="7.66" height="11.55" fill="#fef1e2"/>
<rect x="70.64" y="480.05" width="7.66" height="11.55" fill="#fcdac7"/>
<rect x="78.30" y="480.05" width="7.66" height="11.55" fill="#fcdac7"/>
<rect x="85.96" y="480.05" width="7.66" height="11.55" fill="#feecdc"/>
<rect x="93.62" y="480.05" width="7.66" height="11.55" fill="#fcdfcd"/>
<rect x="101.29" y="480.05" width="7.66" height="11.55" fill="#fdead9"/>
<rect x="108.95" y="480.05" width="7.66" height="11.55" fill="#feedde"/>
<rect x="116.61" y="480.05" width="7.66" height="11.55" fill="#fde6d5"/>
<rect x="124.27" y="480.05" width="7.66" height="11.55" fill="#fcdfcd"/>
<rect x="131.94" y="480.05" width="7.66" height="11.55" fill="#fcdcca"/>
<rect x="17.00" y="491.60" width="7.66" height="11.55" fill="#fde6d5"/>
<rect x="24.66" y="491.60" width="7.66" height="11.55" fill="#fdead9"/>
<rect x="32.33" y="491.60" width="7.66" height="11.55" fill="#feecdc"/>
<rect x="39.99" y="491.60" width="7.66" height="11.55" fill="#fef3e5"/>
<rect x="47.65" y="491.60" width="7.66" height="11.55" fill="#fad4c1"/>
<rect x="55.31" y="491.60" width="7.66" height="11.55" fill="#f8c9b5"/>
<rect x="62.97" y="491.60" width="7.66" height="11.55" fill="#fef1e2"/>
<rect x="70.64" y="491.60" width="7.66" height="11.55" fill="#fdead9"/>
<rect x="78.30" y="491.60" width="7.66" height="11.55" fill="#feecdc"/>
<rect x="85.96" y="491.60" width="7.66" height="11.55" fill="#feefe0"/>
<rect x="93.62" y="491.60" width="7.66" height="11.55" fill="#fde2d0"/>
<rect x="101.29" y="491.60" width="7.66" height="11.55" fill="#fde8d7"/>
<rect x="108.95" y="491.60" width="7.66" height="11.55" fill="#ed8075"/>
<rect x="116.61" y="491.60" width="7.66" height="11.55" fill="#fde8d7"/>
<rect x="124.27" y="491.60" width="7.66" height="11.55" fill="#f4a897"/>
<rect x="131.94" y="491.60" width="7.66" height="11.55" fill="#f4a897"/>
<rect x="17.00" y="503.15" width="7.66" height="11.55" fill="#feecdc"/>
<rect x="24.66" y="503.15" width="7.66" height="11.55" fill="#feedde"/>
<rect x="32.33" y="503.15" width="7.66" height="11.55" fill="#feecdc"/>
<rect x="39.99" y="503.15" width="7.66" height="11.55" fill="#feecdc"/>
<rect x="47.65" y="503.15" width="7.66" height="11.55" fill="#feedde"/>
<rect x="55.31" y="503.15" width="7.66" height="11.55" fill="#feecdc"/>
<rect x="62.97" y="503.15" width="7.66" height="11.55" fill="#feefe0"/>
<rect x="70.64" y="503.15" width="7.66" height="11.55" fill="#feecdc"/>
<rect x="78.30" y="503.15" width="7.66" height="11.55" fill="#feedde"/>
<rect x="85.96" y="503.15" width="7.66" height="11.55" fill="#feedde"/>
<rect x="93.62" y="503.15" width="7.66" height="11.55" fill="#feedde"/>
<rect x="101.29" y="503.15" width="7.66" height="11.55" fill="#feecdc"/>
<rect x="108.95" y="503.15" width="7.66" height="11.55" fill="#feecdc"/>
<rect x="116.61" y="503.15" width="7.66" height="11.55" fill="#feedde"/>
<rect x="124.27" y="503.15" width="7.66" height="11.55" fill="#feedde"/>
<rect x="131.94" y="503.15" width="7.66" height="11.55" fill="#feedde"/>
<rect x="17.00" y="514.70" width="7.66" height="11.55" fill="#fde2d0"/>
<rect x="24.66" y="514.70" width="7.66" height="11.55" fill="#f8c9b5"/>
<rect x="32.33" y="514.70" width="7.66" height="11.55" fill="#f9ccb8"/>
<rect x="39.99" y="514.70" width="7.66" height="11.55" fill="#fde6d5"/>
<rect x="47.65" y="514.70" width="7.66" height="11.55" fill="#ed8479"/>
<rect x="55.31" y="514.70" width="7.66" height="11.55" fill="#ed8479"/>
<rect x="62.97" y="514.70" width="7.66" height="11.55" fill="#fef1e2"/>
<rect x="70.64" y="514.70" width="7.66" height="11.55" fill="#fde8d7"/>
<rect x="78.30" y="514.70" width="7.66" height="11.55" fill="#f8c3af"/>
<rect x="85.96" y="514.70" width="7.66" height="11.55" fill="#feedde"/>
<rect x="93.62" y="514.70" width="7.66" height="11.55" fill="#f09586"/>
<rect x="101.29" y="514.70" width="7.66" height="11.55" fill="#f4a897"/>
<rect x="108.95" y="514.70" width="7.66" height="11.55" fill="#f09586"/>
<rect x="116.61" y="514.70" width="7.66" height="11.55" fill="#fcdcca"/>
<rect x="124.27" y="514.70" width="7.66" height="11.55" fill="#ec7c72"/>
<rect x="131.94" y="514.70" width="7.66" height="11.55" fill="#ec7c72"/>
<rect x="17.00" y="526.25" width="7.66" height="11.55" fill="#feedde"/>
<rect x="24.66" y="526.25" width="7.66" height="11.55" fill="#feefe0"/>
<rect x="32.33" y="526.25" width="7.66" height="11.55" fill="#feedde"/>
<rect x="39.99" y="526.25" width="7.66" height="11.55" fill="#fde8d7"/>
<rect x="47.65" y="526.25" width="7.66" height="11.55" fill="#feefe0"/>
<rect x="55.31" y="526.25" width="7.66" height="11.55" fill="#feefe0"/>
<rect x="62.97" y="526.25" width="7.66" height="11.55" fill="#feedde"/>
<rect x="70.64" y="526.25" width="7.66" height="11.55" fill="#feedde"/>
<rect x="78.30" y="526.25" width="7.66" height="11.55" fill="#feefe0"/>
<rect x="85.96" y="526.25" width="7.66" height="11.55" fill="#feecdc"/>
<rect x="93.62" y="526.25" width="7.66" height="11.55" fill="#feecdc"/>
<rect x="101.29" y="526.25" width="7.66" height="11.55" fill="#feecdc"/>
<rect x="108.95" y="526.25" width="7.66" height="11.55" fill="#feefe0"/>
<rect x="116.61" y="526.25" width="7.66" height="11.55" fill="#feefe0"/>
<rect x="124.27" y="526.25" width="7.66" height="11.55" fill="#feedde"/>
<rect x="131.94" y="526.25" width="7.66" height="11.55" fill="#feefe0"/>
<rect x="17.00" y="537.80" width="7.66" height="11.55" fill="#fef1e2"/>
<rect x="24.66" y="537.80" width="7.66" height="11.55" fill="#fde8d7"/>
<rect x="32.33" y="537.80" width="7.66" height="11.55" fill="#feefe0"/>
<rect x="39.99" y="537.80" width="7.66" height="11.55" fill="#feefe0"/>
<rect x="47.65" y="537.80" width="7.66" height="11.55" fill="#fef1e2"/>
<rect x="55.31" y="537.80" width="7.66" height="11.55" fill="#fef1e2"/>
<rect x="62.97" y="537.80" width="7.66" height="11.55" fill="#feefe0"/>
<rect x="70.64" y="537.80" width="7.66" height="11.55" fill="#feedde"/>
<rect x="78.30" y="537.80" width="7.66" height="11.55" fill="#fef1e2"/>
<rect x="85.96" y="537.80" width="7.66" height="11.55" fill="#fef1e2"/>
<rect x="93.62" y="537.80" width="7.66" height="11.55" fill="#fef1e2"/>
<rect x="101.29" y="537.80" width="7.66" height="11.55" fill="#fef1e2"/>
<rect x="108.95" y="537.80" width="7.66" height="11.55" fill="#fef1e2"/>
<rect x="116.61" y="537.80" width="7.66" height="11.55" fill="#fef1e2"/>
<rect x="124.27" y="537.80" width="7.66" height="11.55" fill="#fef1e2"/>
<rect x="131.94" y="537.80" width="7.66" height="11.55" fill="#fef1e2"/>
<line x1="24.66" y1="413.5" x2="24.66" y2="420.1" stroke="#ffffff" stroke-width="0.6"/>
<line x1="24.66" y1="422.3" x2="24.66" y2="549.35" stroke="#fdf6ee" stroke-width="0.7"/>
<line x1="32.33" y1="413.5" x2="32.33" y2="420.1" stroke="#ffffff" stroke-width="0.6"/>
<line x1="32.33" y1="422.3" x2="32.33" y2="549.35" stroke="#fdf6ee" stroke-width="0.7"/>
<line x1="39.99" y1="413.5" x2="39.99" y2="420.1" stroke="#ffffff" stroke-width="0.6"/>
<line x1="39.99" y1="422.3" x2="39.99" y2="549.35" stroke="#fdf6ee" stroke-width="0.7"/>
<line x1="47.65" y1="413.5" x2="47.65" y2="420.1" stroke="#ffffff" stroke-width="0.6"/>
<line x1="47.65" y1="422.3" x2="47.65" y2="549.35" stroke="#fdf6ee" stroke-width="0.7"/>
<line x1="55.31" y1="413.5" x2="55.31" y2="420.1" stroke="#ffffff" stroke-width="0.6"/>
<line x1="55.31" y1="422.3" x2="55.31" y2="549.35" stroke="#fdf6ee" stroke-width="0.7"/>
<line x1="62.97" y1="413.5" x2="62.97" y2="420.1" stroke="#ffffff" stroke-width="0.6"/>
<line x1="62.97" y1="422.3" x2="62.97" y2="549.35" stroke="#fdf6ee" stroke-width="0.7"/>
<line x1="70.64" y1="413.5" x2="70.64" y2="420.1" stroke="#ffffff" stroke-width="0.6"/>
<line x1="70.64" y1="422.3" x2="70.64" y2="549.35" stroke="#fdf6ee" stroke-width="0.7"/>
<line x1="78.30" y1="413.5" x2="78.30" y2="420.1" stroke="#ffffff" stroke-width="0.6"/>
<line x1="78.30" y1="422.3" x2="78.30" y2="549.35" stroke="#fdf6ee" stroke-width="0.7"/>
<line x1="85.96" y1="413.5" x2="85.96" y2="420.1" stroke="#ffffff" stroke-width="0.6"/>
<line x1="85.96" y1="422.3" x2="85.96" y2="549.35" stroke="#fdf6ee" stroke-width="0.7"/>
<line x1="93.62" y1="413.5" x2="93.62" y2="420.1" stroke="#ffffff" stroke-width="0.6"/>
<line x1="93.62" y1="422.3" x2="93.62" y2="549.35" stroke="#fdf6ee" stroke-width="0.7"/>
<line x1="101.29" y1="413.5" x2="101.29" y2="420.1" stroke="#ffffff" stroke-width="0.6"/>
<line x1="101.29" y1="422.3" x2="101.29" y2="549.35" stroke="#fdf6ee" stroke-width="0.7"/>
<line x1="108.95" y1="413.5" x2="108.95" y2="420.1" stroke="#ffffff" stroke-width="0.6"/>
<line x1="108.95" y1="422.3" x2="108.95" y2="549.35" stroke="#fdf6ee" stroke-width="0.7"/>
<line x1="116.61" y1="413.5" x2="116.61" y2="420.1" stroke="#ffffff" stroke-width="0.6"/>
<line x1="116.61" y1="422.3" x2="116.61" y2="549.35" stroke="#fdf6ee" stroke-width="0.7"/>
<line x1="124.27" y1="413.5" x2="124.27" y2="420.1" stroke="#ffffff" stroke-width="0.6"/>
<line x1="124.27" y1="422.3" x2="124.27" y2="549.35" stroke="#fdf6ee" stroke-width="0.7"/>
<line x1="131.94" y1="413.5" x2="131.94" y2="420.1" stroke="#ffffff" stroke-width="0.6"/>
<line x1="131.94" y1="422.3" x2="131.94" y2="549.35" stroke="#fdf6ee" stroke-width="0.7"/>
<line x1="17.0" y1="433.85" x2="139.6" y2="433.85" stroke="#fdf6ee" stroke-width="0.7"/>
<line x1="17.0" y1="445.40" x2="139.6" y2="445.40" stroke="#fdf6ee" stroke-width="0.7"/>
<line x1="17.0" y1="456.95" x2="139.6" y2="456.95" stroke="#fdf6ee" stroke-width="0.7"/>
<line x1="17.0" y1="468.50" x2="139.6" y2="468.50" stroke="#fdf6ee" stroke-width="0.7"/>
<line x1="17.0" y1="480.05" x2="139.6" y2="480.05" stroke="#fdf6ee" stroke-width="0.7"/>
<line x1="17.0" y1="491.60" x2="139.6" y2="491.60" stroke="#fdf6ee" stroke-width="0.7"/>
<line x1="17.0" y1="503.15" x2="139.6" y2="503.15" stroke="#fdf6ee" stroke-width="0.7"/>
<line x1="17.0" y1="514.70" x2="139.6" y2="514.70" stroke="#fdf6ee" stroke-width="0.7"/>
<line x1="17.0" y1="526.25" x2="139.6" y2="526.25" stroke="#fdf6ee" stroke-width="0.7"/>
<line x1="17.0" y1="537.80" x2="139.6" y2="537.80" stroke="#fdf6ee" stroke-width="0.7"/>
<text x="141.9" y="431.90" font-size="8.4" textLength="17.7" lengthAdjust="spacingAndGlyphs" fill="#2a2a2a" style="stroke:none">HSC</text>
<text x="141.9" y="443.44" font-size="8.4" textLength="16.9" lengthAdjust="spacingAndGlyphs" fill="#2a2a2a" style="stroke:none">MPP</text>
<text x="141.9" y="454.98" font-size="8.4" textLength="18.5" lengthAdjust="spacingAndGlyphs" fill="#2a2a2a" style="stroke:none">CMP</text>
<text x="141.9" y="466.52" font-size="8.4" textLength="18.8" lengthAdjust="spacingAndGlyphs" fill="#2a2a2a" style="stroke:none">GMP</text>
<text x="141.9" y="478.06" font-size="8.4" textLength="17.2" lengthAdjust="spacingAndGlyphs" fill="#2a2a2a" style="stroke:none">MEP</text>
<text x="141.9" y="489.60" font-size="8.4" textLength="36.9" lengthAdjust="spacingAndGlyphs" fill="#2a2a2a" style="stroke:none">Monocytes</text>
<text x="141.9" y="501.14" font-size="8.4" textLength="46.6" lengthAdjust="spacingAndGlyphs" fill="#2a2a2a" style="stroke:none">Macrophages</text>
<text x="141.9" y="512.68" font-size="8.4" textLength="58.6" lengthAdjust="spacingAndGlyphs" fill="#2a2a2a" style="stroke:none">Macrophages M1</text>
<text x="141.9" y="524.22" font-size="8.4" textLength="60.0" lengthAdjust="spacingAndGlyphs" fill="#2a2a2a" style="stroke:none">Macrophages M2</text>
<text x="141.9" y="535.76" font-size="8.4" textLength="34.1" lengthAdjust="spacingAndGlyphs" fill="#2a2a2a" style="stroke:none">Mast cells</text>
<text x="141.9" y="547.30" font-size="8.4" textLength="55.2" lengthAdjust="spacingAndGlyphs" fill="#2a2a2a" style="stroke:none">Megakaryocytes</text>
<defs><linearGradient id="cb" x1="0" y1="1" x2="0" y2="0"><stop offset="0.000" stop-color="#fef5e7"/><stop offset="0.133" stop-color="#fde2d0"/><stop offset="0.267" stop-color="#f8c6b2"/><stop offset="0.400" stop-color="#f3a594"/><stop offset="0.533" stop-color="#ec7c72"/><stop offset="0.667" stop-color="#e1544c"/><stop offset="0.800" stop-color="#d82c30"/><stop offset="1.000" stop-color="#d00416"/></linearGradient></defs>
<rect x="207.2" y="412.2" width="6.9" height="114.6" fill="url(#cb)"/>
<text x="210.8" y="410.2" font-size="8.3" text-anchor="middle" fill="#2a2a2a" style="stroke:none">ES</text>
<text x="216.6" y="529.80" font-size="8.3" fill="#2a2a2a" style="stroke:none">0</text>
<text x="216.6" y="514.51" font-size="8.3" fill="#2a2a2a" style="stroke:none">0.1</text>
<text x="216.6" y="499.23" font-size="8.3" fill="#2a2a2a" style="stroke:none">0.2</text>
<text x="216.6" y="483.94" font-size="8.3" fill="#2a2a2a" style="stroke:none">0.3</text>
<text x="216.6" y="468.66" font-size="8.3" fill="#2a2a2a" style="stroke:none">0.4</text>
<text x="216.6" y="453.37" font-size="8.3" fill="#2a2a2a" style="stroke:none">0.5</text>
<text x="216.6" y="438.09" font-size="8.3" fill="#2a2a2a" style="stroke:none">0.6</text>
<text x="216.6" y="422.80" font-size="8.3" fill="#2a2a2a" style="stroke:none">0.7</text>
<text x="248.1" y="377.5" font-size="12.2" font-weight="bold" style="stroke-width:0.4px;stroke:#111" fill="#111">G</text>
<line x1="293" y1="396.5" x2="293" y2="516.4" stroke="#161616" stroke-width="1.2"/>
<line x1="293" y1="515.9" x2="472.3" y2="515.9" stroke="#161616" stroke-width="1.2"/>
<line x1="290" y1="515.9" x2="293" y2="515.9" stroke="#161616" stroke-width="1"/>
<text x="286.5" y="518.9" font-size="8.4" text-anchor="end" textLength="4.9" lengthAdjust="spacingAndGlyphs" fill="#222">0</text>
<line x1="290" y1="457.125" x2="293" y2="457.125" stroke="#161616" stroke-width="1"/>
<text x="286.5" y="460.125" font-size="8.4" text-anchor="end" textLength="9.8" lengthAdjust="spacingAndGlyphs" fill="#222">50</text>
<line x1="290" y1="398.34999999999997" x2="293" y2="398.34999999999997" stroke="#161616" stroke-width="1"/>
<text x="286.5" y="401.34999999999997" font-size="8.4" text-anchor="end" textLength="14.700000000000001" lengthAdjust="spacingAndGlyphs" fill="#222">100</text>
<line x1="293.0" y1="515.9" x2="293.0" y2="518.9" stroke="#161616" stroke-width="1"/>
<text x="293.0" y="530" font-size="8.4" text-anchor="middle" textLength="4.9" lengthAdjust="spacingAndGlyphs" fill="#222">0</text>
<line x1="328.31" y1="515.9" x2="328.31" y2="518.9" stroke="#161616" stroke-width="1"/>
<text x="328.31" y="530" font-size="8.4" text-anchor="middle" textLength="9.8" lengthAdjust="spacingAndGlyphs" fill="#222">50</text>
<line x1="363.62" y1="515.9" x2="363.62" y2="518.9" stroke="#161616" stroke-width="1"/>
<text x="363.62" y="530" font-size="8.4" text-anchor="middle" textLength="14.700000000000001" lengthAdjust="spacingAndGlyphs" fill="#222">100</text>
<line x1="398.93" y1="515.9" x2="398.93" y2="518.9" stroke="#161616" stroke-width="1"/>
<text x="398.93" y="530" font-size="8.4" text-anchor="middle" textLength="14.700000000000001" lengthAdjust="spacingAndGlyphs" fill="#222">150</text>
<line x1="434.24" y1="515.9" x2="434.24" y2="518.9" stroke="#161616" stroke-width="1"/>
<text x="434.24" y="530" font-size="8.4" text-anchor="middle" textLength="14.700000000000001" lengthAdjust="spacingAndGlyphs" fill="#222">200</text>
<line x1="469.55" y1="515.9" x2="469.55" y2="518.9" stroke="#161616" stroke-width="1"/>
<text x="469.55" y="530" font-size="8.4" text-anchor="middle" textLength="14.700000000000001" lengthAdjust="spacingAndGlyphs" fill="#222">250</text>
<text transform="translate(265.6,489.1) rotate(-90)" font-size="9.2" textLength="68.3" lengthAdjust="spacingAndGlyphs" fill="#222" style="stroke-width:0.24px">Probability of survival</text>
<text x="375.8" y="543.9" font-size="9.6" textLength="14.2" lengthAdjust="spacingAndGlyphs" fill="#222" style="stroke-width:0.4px">Days</text>
<path d="M293.00,398.40 L299.60,398.40 L299.60,456.80 L301.20,456.80 L301.20,515.90" fill="none" stroke="#3a94cc" stroke-width="1.1"/>
<path d="M293.00,398.40 L303.60,398.40 L303.60,515.90" fill="none" stroke="#7b3a9c" stroke-width="1.1"/>
<path d="M293.00,398.40 L307.20,398.40 L307.20,421.50 L313.60,421.50 L313.60,444.70 L314.70,444.70 L314.70,468.30 L317.90,468.30 L317.90,491.80 L319.50,491.80 L319.50,515.90" fill="none" stroke="#3a9a48" stroke-width="1.1"/>
<path d="M293.00,398.40 L307.20,398.40 L307.20,420.30 L322.70,420.30 L322.70,430.00 L327.50,430.00 L327.50,451.00 L332.30,451.00 L332.30,461.40 L335.50,461.40 L335.50,471.80 L337.20,471.80 L337.20,483.80 L356.60,483.80 L356.60,515.90" fill="none" stroke="#f0a21c" stroke-width="1.1"/>
<path d="M293.00,398.40 L335.50,398.40 L335.50,421.50 L349.20,421.50 L349.20,444.70 L363.40,444.70 L363.40,468.70 L398.70,468.70 L398.70,492.00 L441.30,492.00 L441.30,515.90" fill="none" stroke="#1f5ea6" stroke-width="1.1"/>
<path d="M293.00,398.40 L328.30,398.40 L328.30,407.20 L335.50,407.20 L335.50,433.80 L342.30,433.80 L342.30,443.40 L349.20,443.40 L349.20,451.80 L356.70,451.80 L356.70,479.00 L377.80,479.00 L377.80,497.70 L396.30,497.70 L396.30,506.30 L407.00,506.30 L407.00,515.90" fill="none" stroke="#5a96d8" stroke-width="1.1"/>
<rect x="306.50" y="419.10" width="1.4" height="1.8" fill="#333" opacity="0.8"/>
<rect x="322.00" y="428.40" width="1.4" height="1.8" fill="#333" opacity="0.8"/>
<rect x="326.80" y="439.10" width="1.4" height="1.8" fill="#333" opacity="0.8"/>
<rect x="331.60" y="460.10" width="1.4" height="1.8" fill="#333" opacity="0.8"/>
<rect x="334.80" y="470.60" width="1.4" height="1.8" fill="#333" opacity="0.8"/>
<rect x="336.50" y="482.10" width="1.4" height="1.8" fill="#333" opacity="0.8"/>
<rect x="312.90" y="443.60" width="1.4" height="1.8" fill="#333" opacity="0.8"/>
<rect x="314.00" y="467.10" width="1.4" height="1.8" fill="#333" opacity="0.8"/>
<rect x="317.20" y="490.60" width="1.4" height="1.8" fill="#333" opacity="0.8"/>
<rect x="298.90" y="455.60" width="1.4" height="1.8" fill="#333" opacity="0.8"/>
<rect x="327.60" y="405.90" width="1.4" height="1.8" fill="#333" opacity="0.8"/>
<line x1="415.5" y1="407.0" x2="429.3" y2="407.0" stroke="#5a96d8" stroke-width="0.9"/>
<path d="M421.6,407.50 L422.5,405.80 L423.4,407.50 Z" fill="#333"/>
<text x="432" y="409.80" font-size="8.8" textLength="58.7" lengthAdjust="spacingAndGlyphs" fill="#222">pd-JAO Hypoxia</text>
<line x1="415.5" y1="421.1" x2="429.3" y2="421.1" stroke="#f0a21c" stroke-width="0.9"/>
<path d="M421.6,421.60 L422.5,419.90 L423.4,421.60 Z" fill="#333"/>
<text x="432" y="423.90" font-size="8.8" textLength="63.7" lengthAdjust="spacingAndGlyphs" fill="#222">pd-JAO Normoxia</text>
<line x1="415.5" y1="435.2" x2="429.3" y2="435.2" stroke="#1f5ea6" stroke-width="0.9"/>
<path d="M421.6,435.70 L422.5,434.00 L423.4,435.70 Z" fill="#333"/>
<text x="432" y="438.00" font-size="8.8" textLength="87.3" lengthAdjust="spacingAndGlyphs" fill="#222">CD34<tspan dy="-3.6" font-size="0.55em">+</tspan><tspan dy="3.6">&#8203;</tspan>-pd-JAO Hypoxia</text>
<line x1="415.5" y1="449.3" x2="429.3" y2="449.3" stroke="#3a9a48" stroke-width="0.9"/>
<path d="M421.6,449.80 L422.5,448.10 L423.4,449.80 Z" fill="#333"/>
<text x="432" y="452.10" font-size="8.8" textLength="30.5" lengthAdjust="spacingAndGlyphs" fill="#222">AML-3D</text>
<line x1="415.5" y1="463.4" x2="429.3" y2="463.4" stroke="#7b3a9c" stroke-width="0.9"/>
<path d="M421.6,463.90 L422.5,462.20 L423.4,463.90 Z" fill="#333"/>
<text x="432" y="466.20" font-size="8.8" textLength="55.5" lengthAdjust="spacingAndGlyphs" fill="#222">HD-CD34<tspan dy="-3.6" font-size="0.55em">+</tspan><tspan dy="3.6">&#8203;</tspan>-3D</text>
<line x1="415.5" y1="477.5" x2="429.3" y2="477.5" stroke="#3a94cc" stroke-width="0.9"/>
<path d="M421.6,478.00 L422.5,476.30 L423.4,478.00 Z" fill="#333"/>
<text x="432" y="480.30" font-size="8.8" textLength="47.5" lengthAdjust="spacingAndGlyphs" fill="#222">HD-tBM-3D</text>
</svg></body></html>
